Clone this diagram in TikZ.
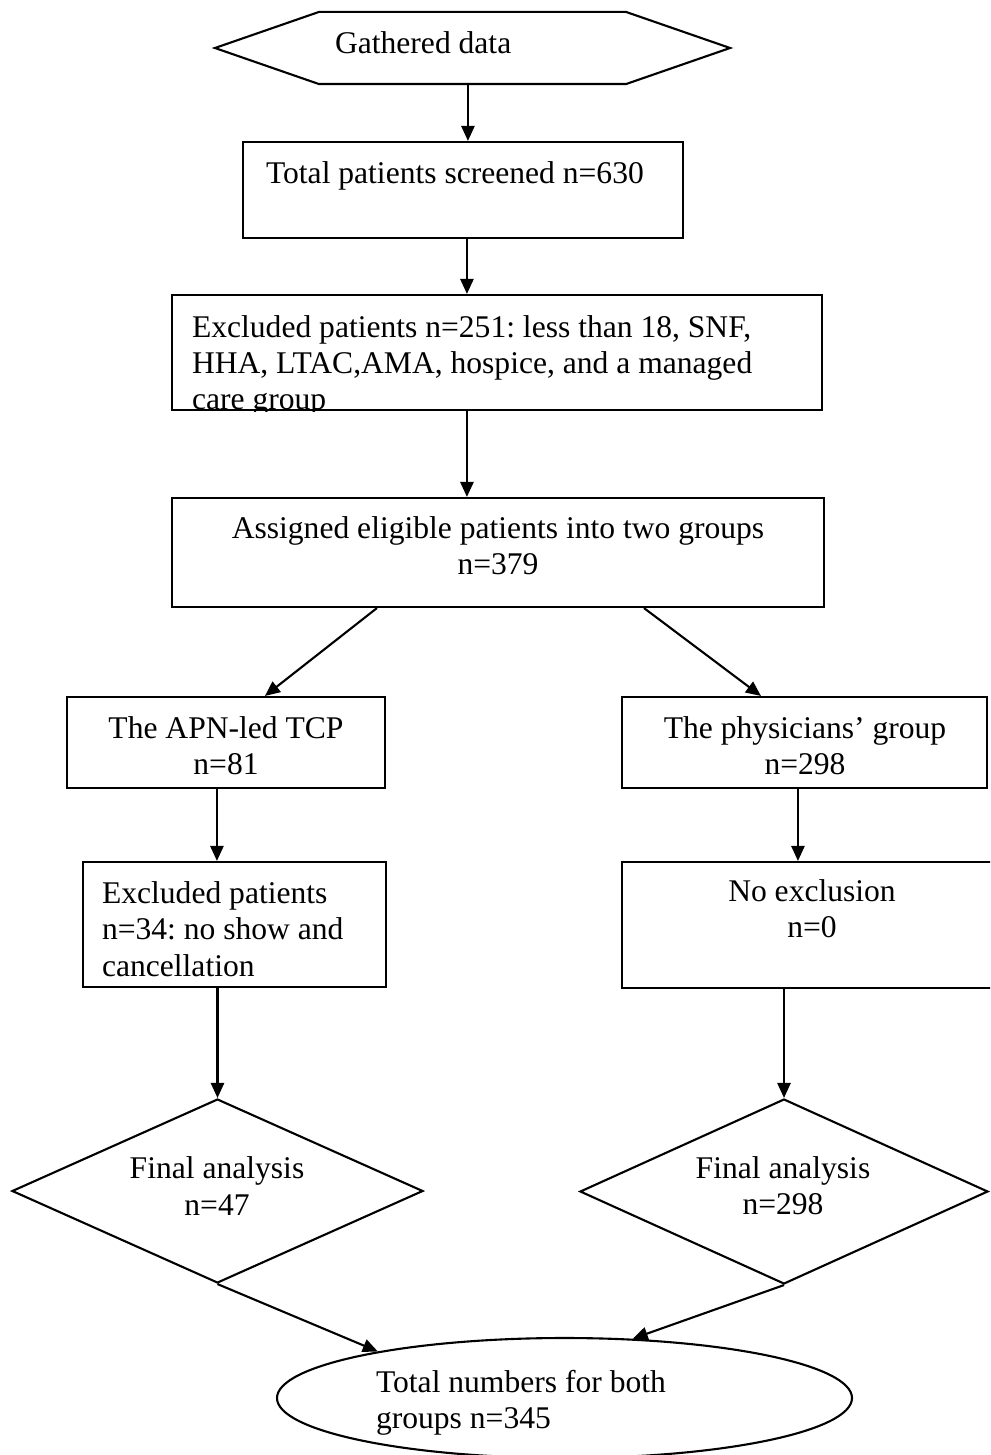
\documentclass[tikz,border=0pt]{standalone}
\usepackage{fontspec}
\setmainfont{Liberation Serif}
\frenchspacing
\usetikzlibrary{arrows.meta,shapes.geometric,calc}
\begin{document}
\begin{tikzpicture}[x=0.38pt,y=-0.38pt,line width=0.8pt,
  rbox/.style n args={4}{draw, rectangle, inner sep=0pt,
     minimum width={(#3-#1)*0.38pt}, minimum height={(#4-#2)*0.38pt},
     at={({(#1+#3)/2},{(#2+#4)/2})}},
  hbox/.style n args={4}{rectangle, inner sep=0pt,
     minimum width={(#3-#1)*0.38pt}, minimum height={(#4-#2)*0.38pt},
     at={({(#1+#3)/2},{(#2+#4)/2})}},
  dbox/.style n args={4}{draw, diamond, inner sep=0pt,
     minimum width={(#3-#1)*0.38pt}, minimum height={(#4-#2)*0.38pt},
     at={({(#1+#3)/2},{(#2+#4)/2})}},
  ebox/.style n args={4}{draw, ellipse, inner sep=0pt,
     minimum width={(#3-#1)*0.38pt}, minimum height={(#4-#2)*0.38pt},
     at={({(#1+#3)/2},{(#2+#4)/2})}},
  txt/.style={inner sep=0pt, font=\fontsize{12pt}{13.8pt}\selectfont},
  arr/.style={line width=0.8pt, -{Triangle[length=5.7pt,width=5pt]}}]
\useasboundingbox (0,0) rectangle (990,1455);
\clip (0,0) rectangle (990,1455);

% hexagon
\node[hbox={320}{13}{625}{83}] (hex) {};
\draw (hex.north west) -- (hex.north east) -- ($(hex.east)+(104,0)$)
  -- (hex.south east) -- (hex.south west) -- ($(hex.west)+(-104,0)$) -- cycle;
\node[txt, anchor=base west] (hext) at (334,54) {Gathered data};

% boxes
\node[rbox={243}{142}{683}{238}] (b2) {};
\node[txt, anchor=base west] (t2) at (265,183) {Total patients screened n=630};

\node[rbox={172}{295}{822}{410}] (b3) {};
\begin{scope}
  \clip (b3.south west) rectangle (b3.north east);
  \node[txt, anchor=west, align=left] (t3) at (191,366)
    {Excluded patients n=251: less than 18, SNF,\\HHA, LTAC,AMA, hospice, and a managed\\care group};
\end{scope}

\node[rbox={172}{498}{824}{607}] (b4) {};
\node[txt, align=center] (t4) at (498,546) {Assigned eligible patients into two groups\\n=379};

\node[rbox={67}{697}{385}{788}] (b5L) {};
\node[txt, align=center] (t5L) at (226,746) {The APN-led TCP\\n=81};

\node[rbox={622}{697}{987}{788}] (b5R) {};
\node[txt, align=center] (t5R) at (805,746) {The physicians’ group\\n=298};

\node[rbox={83}{862}{386}{987}] (b6L) {};
\node[txt, anchor=west, align=left] (t6L) at (101,929) {Excluded patients\\n=34: no show and\\cancellation};

\node[rbox={622}{862}{1002}{988}] (b6R) {};
\node[txt, align=center] (t6R) at (812,909) {No exclusion\\n=0};

% diamonds
\node[dbox={12}{1099}{423}{1283}] (dL) {};
\node[txt, align=center] (tdL) at (217,1186) {Final analysis\\n=47};
\node[dbox={580}{1099}{988}{1284}] (dR) {};
\node[txt, align=center] (tdR) at (783,1186) {Final analysis\\n=298};

% ellipse
\node[ebox={277}{1338}{852}{1458}] (e) {};
\begin{scope}
  \clip (0,0) rectangle (990,1434);
  \node[txt, anchor=west, align=left] (te) at (375,1403) {Total numbers for both\\groups n=345};
\end{scope}

% connectors
\draw[arr] ($(hex.south west)+(149,0)$) -- ($(b2.north west)+(226,0)$);
\draw[arr] ($(b2.south west)+(225,0)$) -- ($(b3.north west)+(296,0)$);
\draw[arr] ($(b3.south west)+(296,0)$) -- ($(b4.north west)+(296,0)$);
\draw[arr] ($(b4.south west)+(206,0)$) -- ($(b5L.north west)+(199,0)$);
\draw[arr] ($(b4.south west)+(473,0)$) -- ($(b5R.north west)+(140,0)$);
\draw[arr] ($(b5L.south west)+(151,0)$) -- ($(b6L.north west)+(135,0)$);
\draw[arr] ($(b5R.south west)+(177,0)$) -- ($(b6R.north west)+(177,0)$);
\draw[arr] (dL.north |- b6L.south) -- (dL.north);
\draw[arr] (dR.north |- b6R.south) -- (dR.north);
\draw[arr] (dL.south) -- (e.166);
\draw[arr] (dR.south) -- (e.41);
\end{tikzpicture}
\end{document}
